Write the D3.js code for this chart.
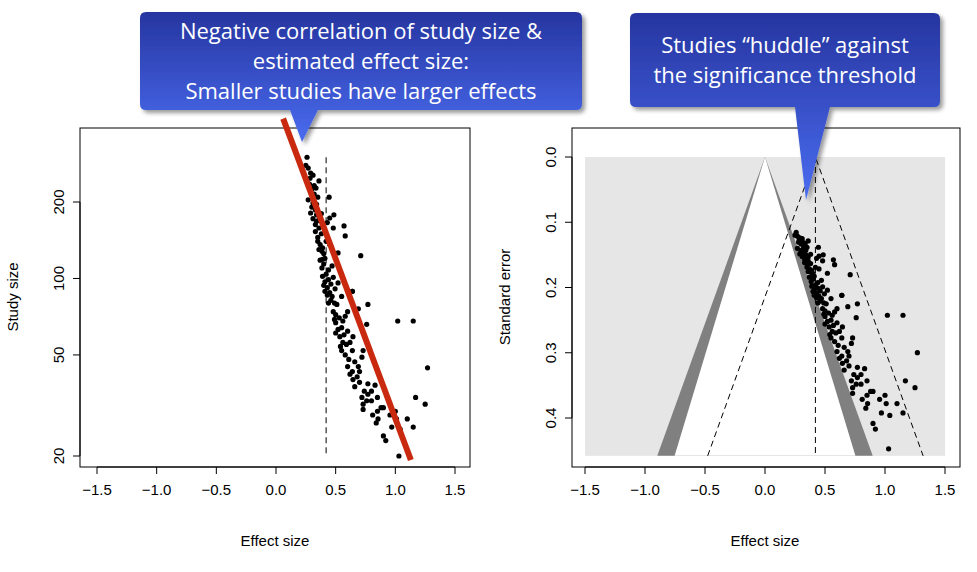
<!DOCTYPE html>
<html><head><meta charset="utf-8">
<script src="https://cdn.jsdelivr.net/npm/d3@7"></script>
<style>body{margin:0;background:#fff}text{font-family:"Liberation Sans",Arial,sans-serif}</style>
</head><body>
<script>
// studies: [effect size, study size]
const studies = [
  [0.26,300],[0.25,279],[0.27,272],[0.31,255],[0.285,248],[0.36,242],[0.335,227],[0.35,209],[0.445,209],
  [0.27,204],[0.30,191],[0.29,181],[0.34,178],[0.485,178],[0.45,173],[0.43,166],[0.57,161],[0.48,158],
  [0.58,147],[0.33,163],[0.33,153],[0.35,145],[0.37,136],[0.45,136],[0.52,126],[0.71,123],[0.385,128],
  [0.39,119],[0.385,110],[0.44,108],[0.48,101],[0.41,97],[0.43,92],[0.495,91],[0.64,89],
  [0.41,89],[0.47,85],[0.64,89],[0.77,79],[0.69,76],[0.51,79],[0.48,74],[0.60,74],[1.02,68],[1.15,68],
  [0.76,66],[0.50,67],[0.56,68],[0.52,63],[0.60,62],[0.535,59],[0.645,59],[0.56,56],[0.62,56],
  [0.55,52],[0.64,52],[0.58,50],[0.73,52],[0.72,49],[1.27,44.5],[0.60,45],[0.69,45],[0.64,43],[0.70,43],
  [0.645,40],[0.66,37.5],[0.77,38.5],[0.83,38],[0.72,34],[0.77,35],[0.85,34],[1.17,34],[1.25,32],
  [0.73,32],[0.80,33],[0.73,30.5],[0.85,30],[0.81,29],[0.90,31],[1.0,30],[0.955,29],[0.855,28],
  [1.01,28],[1.10,28],[0.97,26],[1.04,25.5],[1.15,26],[0.90,24],[0.92,23],[1.03,20],
  [0.28,235],[0.30,225],[0.32,215],[0.31,198],[0.33,186],[0.36,170],[0.34,168],[0.36,158],[0.38,150],
  [0.35,140],[0.39,132],[0.40,125],[0.37,118],[0.40,114],[0.42,104],[0.39,102],[0.44,99],[0.46,95],
  [0.40,94],[0.45,88],[0.43,86],[0.46,82],[0.49,80],[0.44,80],[0.50,72],[0.53,70],[0.49,69],
  [0.55,64],[0.57,60],[0.50,61],[0.59,55],[0.54,54],[0.61,48],[0.66,47],[0.62,42],[0.68,41],
  [0.70,39],[0.74,36],[0.76,33],[0.80,36],[0.88,31],[0.84,27],[0.29,260],[0.32,232],[0.34,196],
  [0.31,172],[0.38,180],[0.42,140],[0.36,130],[0.41,120],[0.47,112],[0.52,96],[0.55,85],[0.58,71]
];
const xTicks = [-1.5,-1.0,-0.5,0.0,0.5,1.0,1.5];
const sizeTicks = [20,50,100,200];
const seTicks = [0.0,0.1,0.2,0.3,0.4];
const trueEffect = 0.42;
const fitLine = [[0.06,426],[1.13,19.3]];
const seMax = 0.458;

const svg = d3.select('body').append('svg').attr('width',977).attr('height',572);

function xAxis(g, x, y0) {
  g.append('line').attr('x1',x(-1.5)).attr('x2',x(1.5)).attr('y1',y0).attr('y2',y0).attr('stroke','#000');
  g.selectAll('.xt').data(xTicks).join('g').call(t => {
    t.append('line').attr('x1',x).attr('x2',x).attr('y1',y0).attr('y2',y0+7).attr('stroke','#000');
    t.append('text').attr('x',x).attr('y',y0+28).attr('text-anchor','middle').attr('font-size',15).text(d3.format('.1f'));
  });
}
function yAxis(g, y, x0, ticks, fmt) {
  g.append('line').attr('x1',x0).attr('x2',x0).attr('y1',y(ticks[0])).attr('y2',y(ticks[ticks.length-1])).attr('stroke','#000');
  g.selectAll('.yt').data(ticks).join('g').call(t => {
    t.append('line').attr('x1',x0-7).attr('x2',x0).attr('y1',y).attr('y2',y).attr('stroke','#000');
    t.append('text').attr('transform',d=>`translate(${x0-16},${y(d)}) rotate(-90)`).attr('text-anchor','middle').attr('font-size',15).text(fmt);
  });
}

// ---- left panel
const xL = d3.scaleLinear().domain([-1.5,1.5]).range([97,455]);
const yL = d3.scaleLog().domain([20,200]).range([456,202]);
const L = svg.append('g');
L.append('rect').attr('x',80).attr('y',128).attr('width',390).attr('height',339).attr('fill','none').attr('stroke','#000');
L.append('line').attr('x1',xL(trueEffect)).attr('x2',xL(trueEffect)).attr('y1',yL(300)).attr('y2',yL(20))
  .attr('stroke','#000').attr('stroke-dasharray','6,4');
L.selectAll('circle').data(studies).join('circle').attr('cx',d=>xL(d[0])).attr('cy',d=>yL(d[1])).attr('r',2.6);
xAxis(L.append('g'), xL, 467);
yAxis(L.append('g'), yL, 80, sizeTicks, d3.format('d'));
L.append('text').attr('x',275).attr('y',546).attr('text-anchor','middle').attr('font-size',15).text('Effect size');
L.append('text').attr('transform','translate(18,297) rotate(-90)').attr('text-anchor','middle').attr('font-size',15).text('Study size');
L.append('line').attr('x1',xL(fitLine[0][0])).attr('y1',yL(fitLine[0][1])).attr('x2',xL(fitLine[1][0])).attr('y2',yL(fitLine[1][1]))
  .attr('stroke','#c8290f').attr('stroke-width',6);

// ---- right panel
const xR = d3.scaleLinear().domain([-1.5,1.5]).range([585,945]);
const yR = d3.scaleLinear().domain([0,0.4]).range([157,418]);
const R = svg.append('g');
R.append('rect').attr('x',xR(-1.5)).attr('y',yR(0)).attr('width',xR(1.5)-xR(-1.5)).attr('height',yR(seMax)-yR(0)).attr('fill','#e6e6e6');
const tri = (z) => [[xR(0),yR(0)],[xR(-z*seMax),yR(seMax)],[xR(z*seMax),yR(seMax)]];
R.append('polygon').attr('points',tri(1.96).join(' ')).attr('fill','#808080');
R.append('polygon').attr('points',tri(1.645).join(' ')).attr('fill','#fff');
R.append('polygon').attr('points',[[xR(-0.02),yR(seMax)],[xR(0.02),yR(seMax)],[xR(0.02),yR(seMax*0.0)]].join(' ')).attr('fill','none');
R.append('path').attr('d',d3.line()([[xR(trueEffect-1.96*seMax),yR(seMax)],[xR(trueEffect),yR(0)],[xR(trueEffect+1.96*seMax),yR(seMax)]]))
  .attr('fill','none').attr('stroke','#000').attr('stroke-dasharray','6,4');
R.append('line').attr('x1',xR(trueEffect)).attr('x2',xR(trueEffect)).attr('y1',yR(0)).attr('y2',yR(seMax))
  .attr('stroke','#000').attr('stroke-dasharray','6,4');
R.append('rect').attr('x',572).attr('y',128).attr('width',388).attr('height',339).attr('fill','none').attr('stroke','#000');
R.selectAll('circle').data(studies).join('circle').attr('cx',d=>xR(d[0])).attr('cy',d=>yR(2/Math.sqrt(d[1]))).attr('r',2.6);
xAxis(R.append('g'), xR, 467);
yAxis(R.append('g'), yR, 572, seTicks, d3.format('.1f'));
R.append('text').attr('x',765).attr('y',546).attr('text-anchor','middle').attr('font-size',15).text('Effect size');
R.append('text').attr('transform','translate(510,297) rotate(-90)').attr('text-anchor','middle').attr('font-size',15).text('Standard error');

// ---- callouts
const defs = svg.append('defs');
const gr = defs.append('linearGradient').attr('id','cg').attr('x1',0).attr('y1',0).attr('x2',0).attr('y2',1);
gr.append('stop').attr('offset',0).attr('stop-color','#2635a0');
gr.append('stop').attr('offset',1).attr('stop-color','#4a6cf0');
defs.append('filter').attr('id','sh').append('feDropShadow').attr('dx',3).attr('dy',3).attr('stdDeviation',2).attr('flood-opacity',0.4);

function callout(x0,y0,x1,y1,px0,px1,tx,ty,lines) {
  const r = 6;
  const p = `M${x0+r},${y0}H${x1-r}Q${x1},${y0} ${x1},${y0+r}V${y1-r}Q${x1},${y1} ${x1-r},${y1}H${px1}L${tx},${ty}L${px0},${y1}H${x0+r}Q${x0},${y1} ${x0},${y1-r}V${y0+r}Q${x0},${y0} ${x0+r},${y0}Z`;
  svg.append('path').attr('d',p).attr('fill','url(#cg)').attr('filter','url(#sh)');
  const cy = (y0+y1)/2 - (lines.length-1)*15;
  svg.selectAll(null).data(lines).join('text').attr('x',(x0+x1)/2).attr('y',(d,i)=>cy+i*30+8)
    .attr('text-anchor','middle').attr('fill','#fff').attr('font-size',22).style('font-family','"Open Sans",sans-serif').text(d=>d);
}
callout(140,12,582,110,290,318,302,142,['Negative correlation of study size &','estimated effect size:','Smaller studies have larger effects']);
callout(630,13,940,107,795,830,806,200,['Studies \u201chuddle\u201d against','the significance threshold']);
</script>
</body></html>
